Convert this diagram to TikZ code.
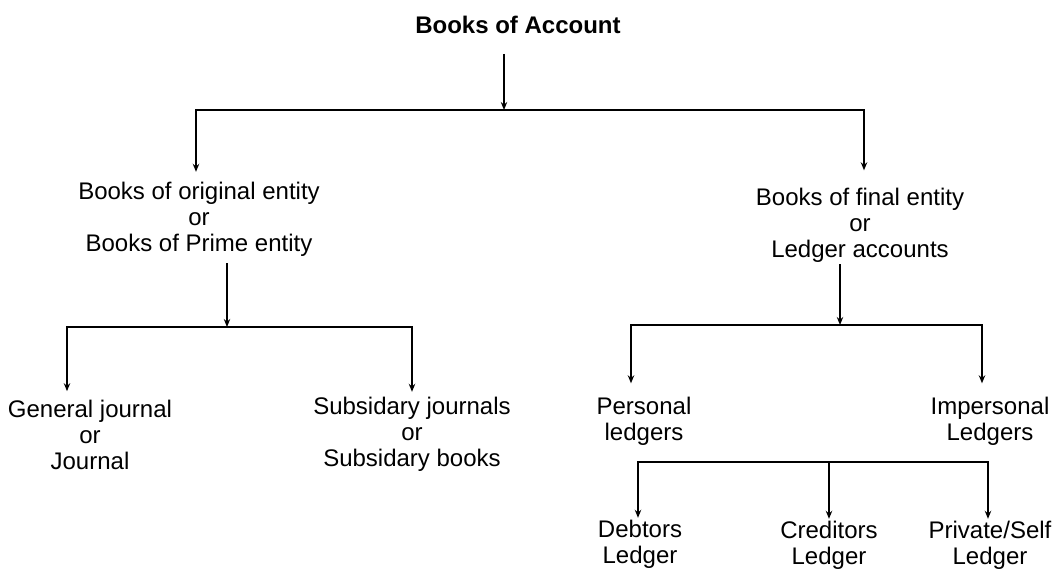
\documentclass[tikz,border=0pt]{standalone}
\usepackage{fontspec}
\setmainfont{Liberation Sans}
\usetikzlibrary{positioning, arrows.meta, calc}

\begin{document}
\begin{tikzpicture}[
    x=0.5pt, y=-0.5pt,
    line width=0.8pt,
    label/.style={align=center, inner sep=0pt, outer sep=0pt, font=\fontsize{12}{13}\selectfont},
    head/.style={label, font=\fontsize{12}{13}\selectfont\bfseries},
    arr/.style={-{Stealth[length=4pt, width=3.2pt]}}
]
    \useasboundingbox (0,0) rectangle (1056,570);

    % Root
    \node[head] (account) at (518,25) {Books of Account};

    % Second level
    \node[label] (original) at (199,219) {Books of original entity\\or\\Books of Prime entity};
    \node[label] (final) at (860,225) {Books of final entity\\or\\Ledger accounts};

    % Third level
    \node[label] (general) at (90,435) {General journal\\or\\Journal};
    \node[label] (subsidary) at (412,434) {Subsidary journals\\or\\Subsidary books};
    \node[label] (personal) at (644,421) {Personal\\ledgers};
    \node[label] (impersonal) at (990,421) {Impersonal\\Ledgers};

    % Fourth level
    \node[label] (debtors) at (640,544) {Debtors\\Ledger};
    \node[label] (creditors) at (829,545) {Creditors\\Ledger};
    \node[label] (private) at (990,545) {Private/Self\\Ledger};

    % Fork points
    \coordinate (split) at (504,110);
    \coordinate (splitL) at (196,110);
    \coordinate (splitR) at (864,110);
    \coordinate (forkL) at (227,327);
    \coordinate (forkLa) at (67,327);
    \coordinate (forkLb) at (412,327);
    \coordinate (forkR) at (840,325);
    \coordinate (forkRa) at (631,325);
    \coordinate (forkRb) at (982,325);
    \coordinate (forkBa) at (638,462);
    \coordinate (forkBm) at (829,462);
    \coordinate (forkBb) at (988,462);

    % Connectors
    \draw[arr] ([yshift=-10pt]account.south -| split) -- (split);
    \draw[arr, shorten >=5pt] (split) -- (splitL) -- (splitL |- original.north);
    \draw[arr, shorten >=8.75pt] (split) -- (splitR) -- (splitR |- final.north);

    \draw[arr] ([yshift=-3.5pt]original.south -| forkL) -- (forkL);
    \draw[arr, shorten >=4.5pt] (forkL) -- (forkLa) -- (forkLa |- general.north);
    \draw[arr, shorten >=2.5pt] (forkL) -- (forkLb) -- (forkLb |- subsidary.north);

    \draw[arr] ([yshift=-1pt]final.south -| forkR) -- (forkR);
    \draw[arr, shorten >=6.75pt] (forkR) -- (forkRa) -- (forkRa |- personal.north);
    \draw[arr, shorten >=6.75pt] (forkR) -- (forkRb) -- (forkRb |- impersonal.north);

    \draw[arr, shorten >=1pt] (forkBb) -- (forkBa) -- (forkBa |- debtors.north);
    \draw[arr, shorten >=1pt] (forkBm) -- (forkBm |- creditors.north);
    \draw[arr, shorten >=1pt] (forkBa) -- (forkBb) -- (forkBb |- private.north);
\end{tikzpicture}
\end{document}
